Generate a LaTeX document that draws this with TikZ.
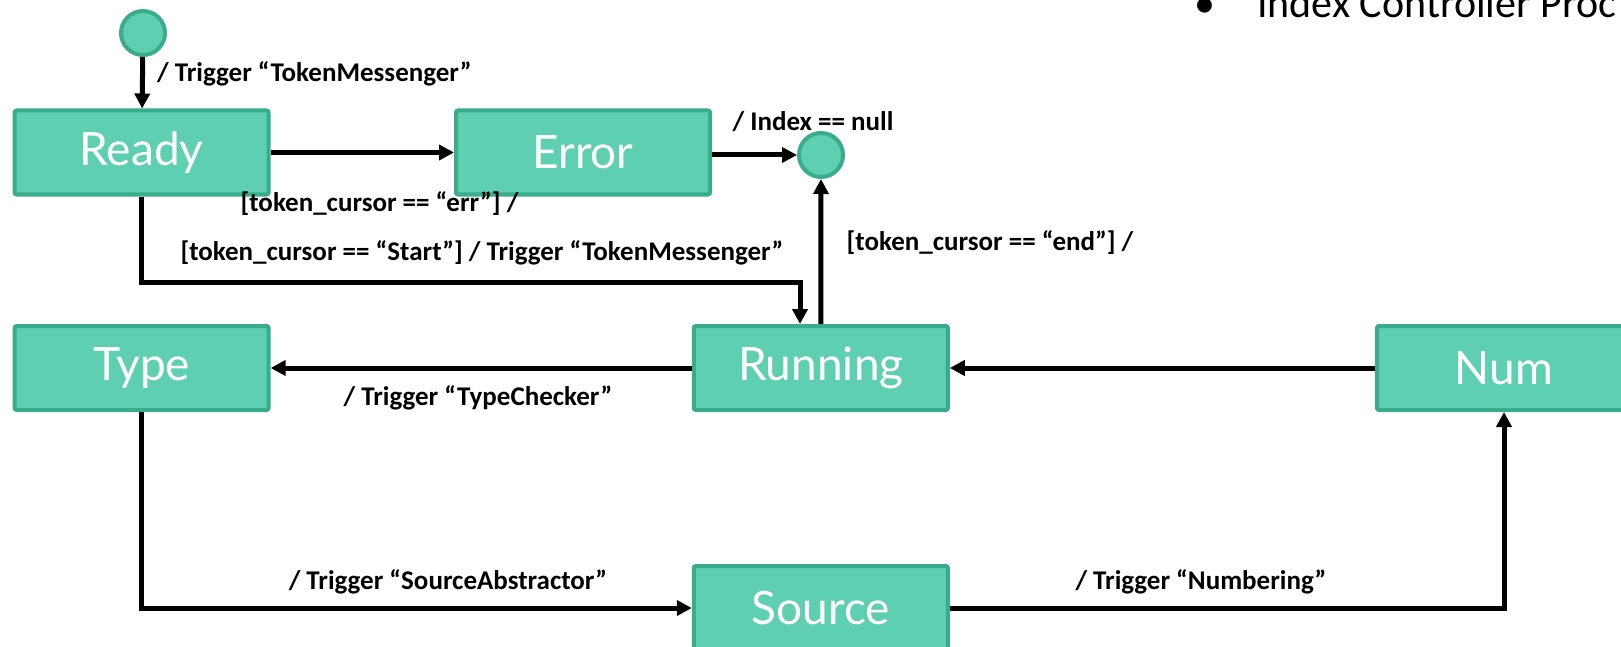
\documentclass[tikz,border=0pt]{standalone}
\usepackage{fontspec}
\setmainfont{Carlito}
\newfontfamily\statefont{Lato}
\usetikzlibrary{arrows.meta}
\definecolor{statefill}{RGB}{94,207,176}
\definecolor{stateline}{RGB}{58,172,140}
\tikzset{statebox/.style={draw=stateline,fill=statefill,line width=4pt,rounded corners=2pt,
    minimum width=254pt,minimum height=84pt,text=white,font=\statefont\fontsize{46}{50}\selectfont},
  pseudo/.style={circle,draw=stateline,fill=statefill,line width=4pt,minimum size=44pt,inner sep=0pt},
  trans/.style={line width=5pt,-{Triangle[length=15pt,width=15pt]}},
  lbl/.style={font=\bfseries\fontsize{27}{30}\selectfont,inner sep=0pt}}
\begin{document}
\begin{tikzpicture}[x=1pt,y=-1pt]
  \useasboundingbox (0,0) rectangle (1621,647);
  % states
  \node[pseudo] (start) at (143,33) {};
  \node[statebox] (ready) at (141.6,152.5) {Ready};
  \node[statebox] (error) at (583,152.5) {Error};
  \node[pseudo] (final) at (821,155) {};
  \node[statebox] (type) at (141.6,368) {Type};
  \node[statebox] (running) at (820.8,368) {Running};
  \node[statebox] (num) at (1504,368) {Num};
  \node[statebox] (source) at (820.8,608) {Source};
  \coordinate (bend) at (800,282);
  % transitions
  \draw[trans] (start) -- (ready);
  \draw[trans] (ready) -- (error);
  \draw[trans] (error.east |- final) -- (final);
  \draw[trans] (ready.south) |- (bend) -- (bend |- running.north);
  \draw[trans] (running) -- (final);
  \draw[trans] (running) -- (type);
  \draw[trans] (num) -- (running);
  \draw[trans] (type.south) |- (source.west);
  \draw[trans] (source.east) -| (num.south);
  % labels
  \node[lbl,anchor=west] (l1) at (157,74) {/ Trigger “TokenMessenger”};
  \node[lbl] (l2) at (379.5,204) {[token\_cursor == “err”] /};
  \node[lbl] (l3) at (482,253) {[token\_cursor == “Start”] / Trigger “TokenMessenger”};
  \node[lbl] (l4) at (813,122) {/ Index == null};
  \node[lbl] (l5) at (990,243) {[token\_cursor == “end”] /};
  \node[lbl] (l6) at (478,398) {/ Trigger “TypeChecker”};
  \node[lbl] (l7) at (448,582) {/ Trigger “SourceAbstractor”};
  \node[lbl] (l8) at (1201,582) {/ Trigger “Numbering”};
  % slide text
  \node[anchor=base,inner sep=0pt,font=\fontsize{42}{48}\selectfont] (bullet) at (1205,18) {•};
  \node[anchor=base west,inner sep=0pt,font=\fontsize{42}{48}\selectfont] (title) at (1257,18) {Index Controller Proc};
\end{tikzpicture}
\end{document}
